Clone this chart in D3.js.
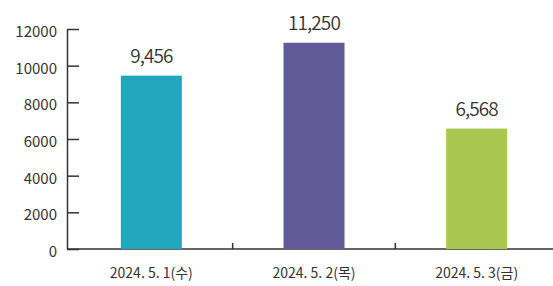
<!DOCTYPE html>
<meta charset="utf-8">
<style>
body { margin: 0; background: #fff; }
svg text { font-family: "Noto Sans CJK KR", "Noto Sans", sans-serif; fill: #333; }
.axis path, .axis line { stroke: #333; stroke-width: 1.5; }
</style>
<body>
<script src="https://cdn.jsdelivr.net/npm/d3@7"></script>
<script>
// data
var categories = ["2024. 5. 1(수)", "2024. 5. 2(목)", "2024. 5. 3(금)"];
var visitors = [9456, 11250, 6568];
var barColors = ["#21a7bd", "#625a98", "#a9c750"];
var yTicks = [0, 2000, 4000, 6000, 8000, 10000, 12000];

var W = 553, H = 286;
var axisX = 67, baseY = 249, topY = 29;

var svg = d3.select("body").append("svg")
    .attr("width", W)
    .attr("height", H);

var x = d3.scaleBand().domain(categories).range([70, 558]).padding(0);
var y = d3.scaleLinear().domain([0, 12000]).range([baseY, topY]);

// y axis, ticks pointing inward
var yAxis = svg.append("g")
    .attr("class", "axis")
    .attr("transform", "translate(" + axisX + ",0)")
    .call(d3.axisLeft(y).tickValues(yTicks).tickFormat(d3.format("d"))
        .tickSizeInner(-12).tickSizeOuter(0).tickPadding(10));
yAxis.selectAll("text")
    .attr("font-size", 15)
    .attr("dy", "0.5em")
    .style("fill", "#333");

// x axis line
svg.append("line")
    .attr("class", "axis")
    .attr("x1", axisX).attr("x2", W)
    .attr("y1", baseY).attr("y2", baseY)
    .attr("stroke", "#333").attr("stroke-width", 1.5);

// separators between categories
svg.selectAll(".sep")
    .data(categories.slice(1))
    .enter().append("line")
    .attr("class", "sep")
    .attr("x1", d => x(d)).attr("x2", d => x(d))
    .attr("y1", baseY).attr("y2", baseY - 6)
    .attr("stroke", "#333").attr("stroke-width", 1.5);

var barW = x.bandwidth() * 0.375;

svg.selectAll(".bar")
    .data(visitors)
    .enter().append("rect")
    .attr("class", "bar")
    .attr("x", (d, i) => x(categories[i]) + (x.bandwidth() - barW) / 2)
    .attr("y", d => y(d))
    .attr("width", barW)
    .attr("height", d => y(0) - y(d))
    .attr("fill", (d, i) => barColors[i]);

// value labels
svg.selectAll(".val")
    .data(visitors)
    .enter().append("text")
    .attr("class", "val")
    .attr("x", (d, i) => x(categories[i]) + x.bandwidth() / 2)
    .attr("y", d => y(d) - 13)
    .attr("text-anchor", "middle")
    .attr("font-size", 19)
    .attr("font-weight", 350)
    .attr("letter-spacing", -0.9)
    .text(d => d3.format(",")(d));

// category labels
svg.selectAll(".cat")
    .data(categories)
    .enter().append("text")
    .attr("class", "cat")
    .attr("x", d => x(d) + x.bandwidth() / 2)
    .attr("y", 278)
    .attr("text-anchor", "middle")
    .attr("font-size", 14)
    .text(d => d);

yAxis.select(".domain").attr("stroke-width", 1.5);
</script>
</body>
